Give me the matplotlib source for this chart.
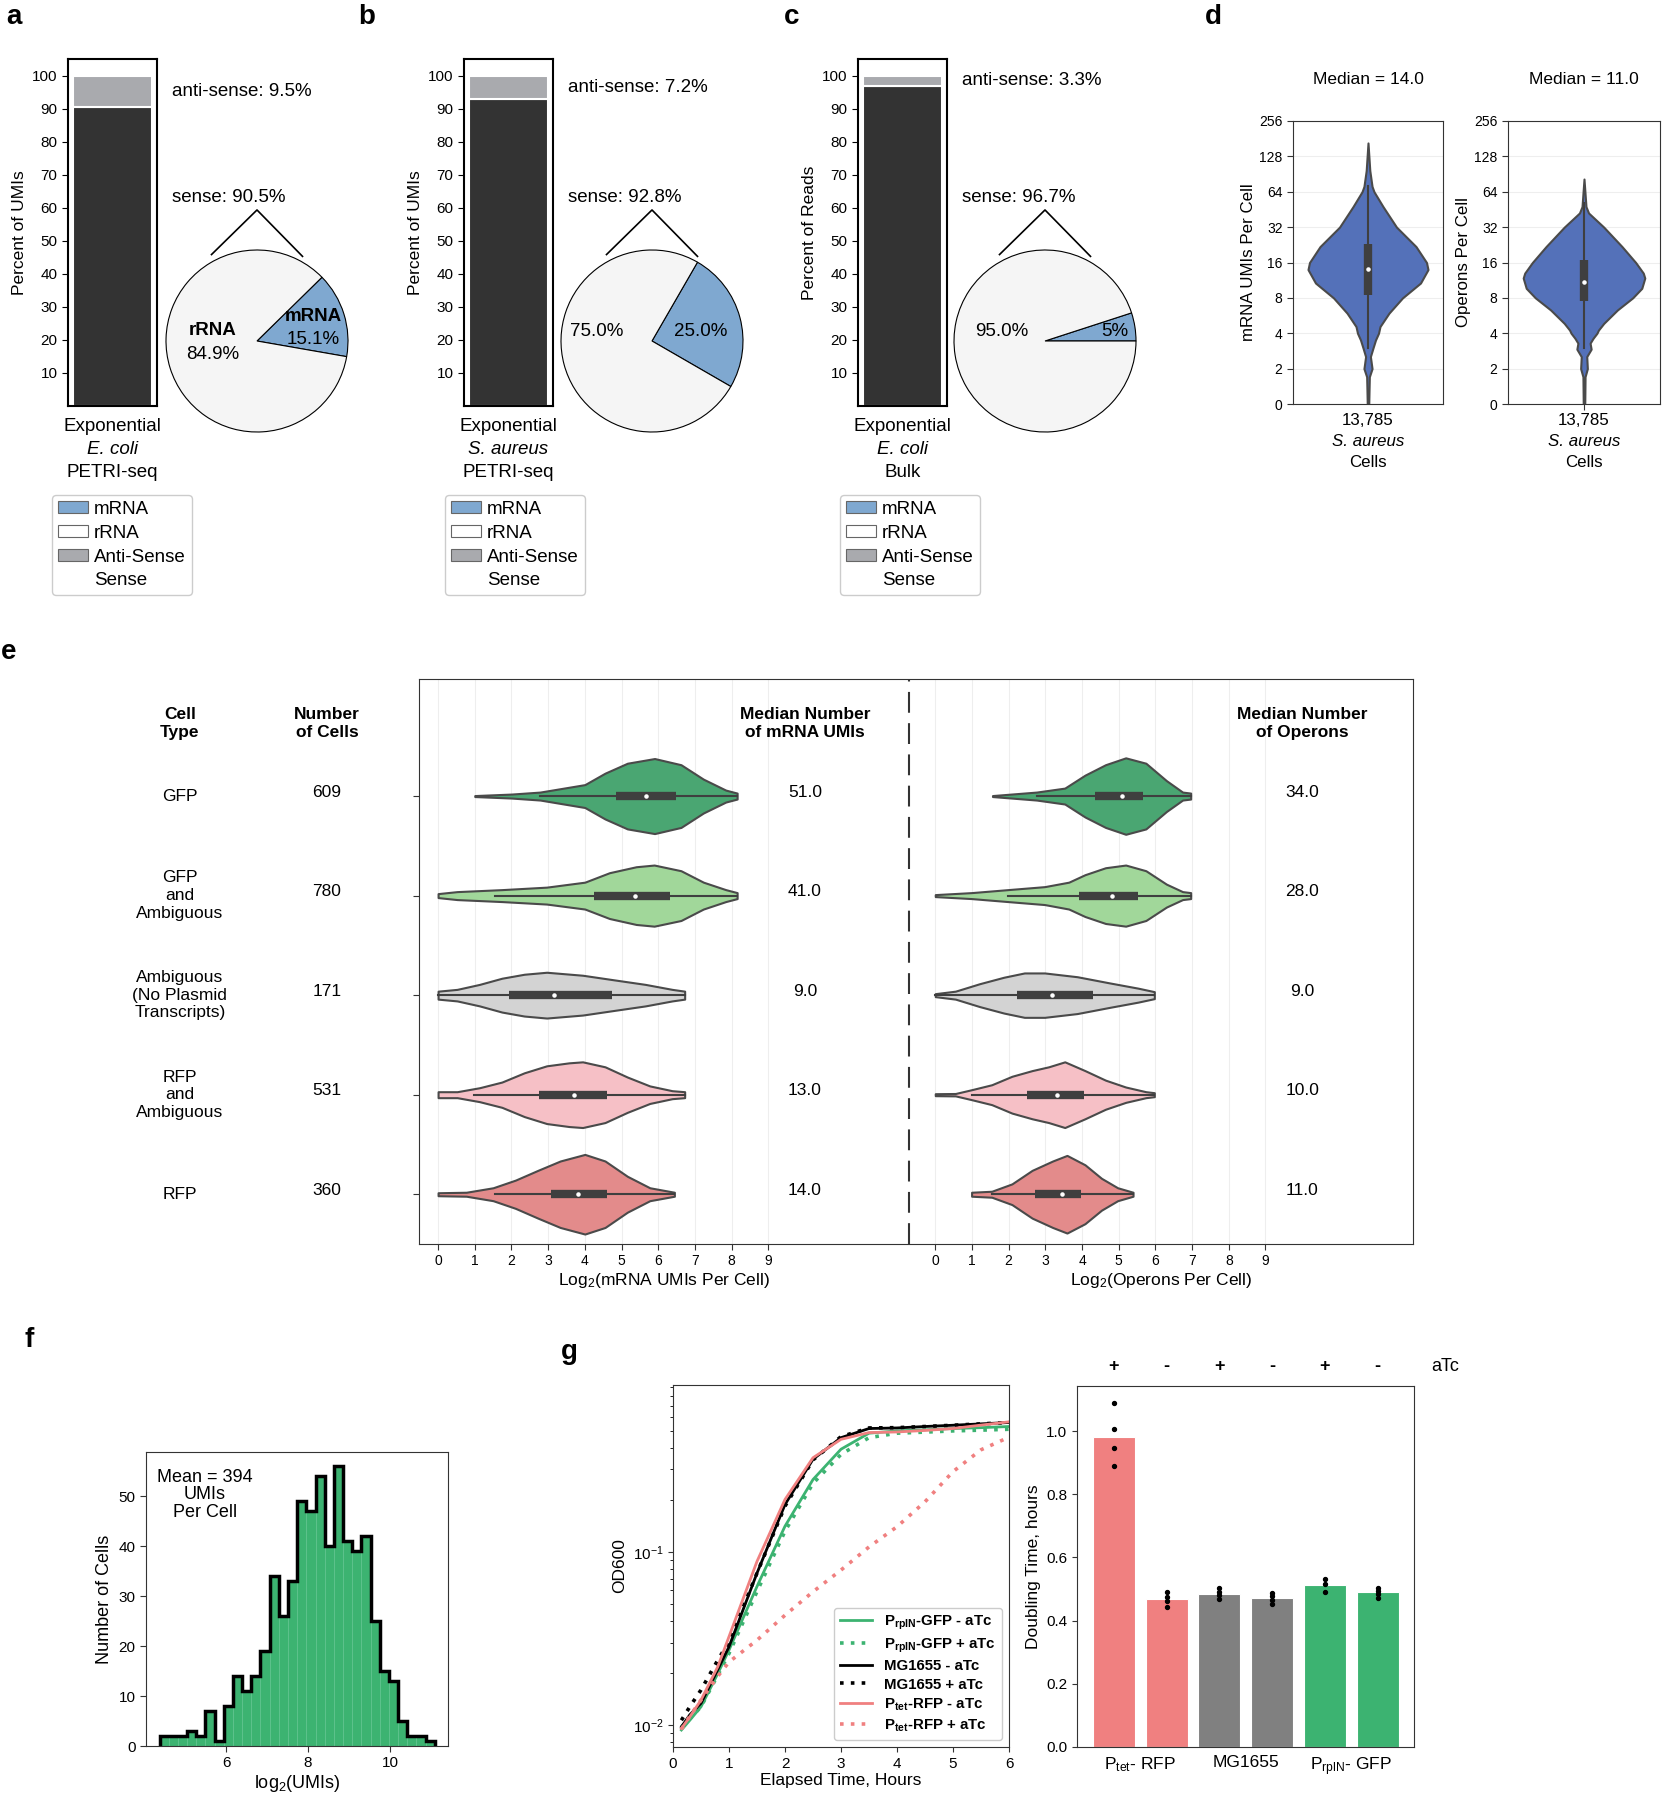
import numpy as np
import matplotlib
matplotlib.use("Agg")
import matplotlib.pyplot as plt
import matplotlib.transforms as mtransforms
from matplotlib.patches import Patch

plt.rcParams['font.family'] = ['Liberation Sans', 'DejaVu Sans']
plt.rcParams['mathtext.fontset'] = 'custom'
plt.rcParams['mathtext.rm'] = 'Liberation Sans'
plt.rcParams['mathtext.it'] = 'Liberation Sans:italic'
plt.rcParams['mathtext.bf'] = 'Liberation Sans:bold'

#       <--- NOTE: DATA --->
#------------------------------------------------------------------------------
# panels a-c : sense / anti-sense bars and mRNA / rRNA pies
sense_pct = [90.5, 92.8, 96.7]
antisense_pct = [9.5, 7.2, 3.3]
mrna_pct = [15.1, 25.0, 5.0]
rrna_pct = [84.9, 75.0, 95.0]
mrna_labels = ["15.1%", "25.0%", "5%"]
rrna_labels = ["84.9%", "75.0%", "95.0%"]
mrna_names = ["mRNA", "", ""]
rrna_names = ["rRNA", "", ""]
species = ["E. coli", "S. aureus", "E. coli"]
methods = ["PETRI-seq", "PETRI-seq", "Bulk"]
bar_ylabels = ["Percent of UMIs", "Percent of UMIs", "Percent of Reads"]

# panel d : S. aureus violins (log2 position, half width)
d_titles = ["Median = 14.0", "Median = 11.0"]
d_ylabels = ["mRNA UMIs Per Cell", "Operons Per Cell"]
d_ticklabels = ["0", "2", "4", "8", "16", "32", "64", "128", "256"]
d_ncells = "13,785"
umi_pos = [0, 0.4, 0.77, 1.0, 1.34, 1.58, 1.81, 2.0, 2.19, 2.57, 3.0, 3.42, 3.8, 4.0,
           4.45, 5.0, 5.58, 6.0, 6.15, 6.6, 7.38]
umi_hw = [0.005, 0.007, 0.009, 0.027, 0.016, 0.033, 0.05, 0.07, 0.08, 0.14, 0.23, 0.35,
          0.40, 0.39, 0.32, 0.19, 0.10, 0.04, 0.027, 0.012, 0.0]
op_pos = [0, 0.77, 1.0, 1.34, 1.55, 1.72, 1.86, 2.0, 2.09, 2.28, 2.66, 3.0, 3.27, 3.56,
          3.7, 4.0, 4.45, 5.0, 5.4, 5.58, 6.36]
op_hw = [0.005, 0.007, 0.022, 0.018, 0.047, 0.04, 0.06, 0.085, 0.095, 0.13, 0.22, 0.32,
         0.38, 0.40, 0.39, 0.34, 0.25, 0.13, 0.03, 0.013, 0.0]
# whisker lo, q1, q3, whisker hi (log2), medians
d_boxes = [(1.58, 3.08, 4.53, 6.15), (1.58, 2.9, 4.08, 5.68)]
d_medians = [14.0, 11.0]

# panel e : cell types
cell_types = ["GFP", "GFP\nand\nAmbiguous", "Ambiguous\n(No Plasmid\nTranscripts)",
              "RFP\nand\nAmbiguous", "RFP"]
n_cells = [609, 780, 171, 531, 360]
med_umi = [51.0, 41.0, 9.0, 13.0, 14.0]
med_op = [34.0, 28.0, 9.0, 10.0, 11.0]
e_colors = ['#4aa672', '#a1d79a', '#d3d3d3', '#f6c0c6', '#e38b8b']

e_umi_x = [
    [1.0, 2.0, 2.78, 4.0, 4.55, 5.16, 5.9, 6.62, 7.23, 7.84, 8.15],
    [0.0, 0.52, 1.74, 2.96, 4.0, 4.67, 5.4, 5.89, 6.62, 7.23, 7.84, 8.15],
    [0.0, 0.52, 1.13, 1.74, 2.35, 2.96, 3.94, 4.79, 5.65, 6.38, 6.72],
    [0.0, 0.52, 1.13, 1.74, 2.35, 2.96, 3.57, 3.94, 4.55, 5.16, 5.77, 6.38, 6.72],
    [0.0, 0.77, 1.5, 2.11, 2.72, 3.33, 4.0, 4.55, 5.16, 5.77, 6.44],
]
e_umi_hw = [
    [0.005, 0.02, 0.04, 0.115, 0.23, 0.33, 0.377, 0.315, 0.17, 0.06, 0.03],
    [0.02, 0.04, 0.06, 0.085, 0.135, 0.23, 0.29, 0.307, 0.25, 0.135, 0.06, 0.03],
    [0.04, 0.058, 0.108, 0.17, 0.21, 0.23, 0.2, 0.154, 0.108, 0.058, 0.04],
    [0.03, 0.03, 0.07, 0.127, 0.22, 0.29, 0.32, 0.33, 0.28, 0.177, 0.088, 0.04, 0.03],
    [0.015, 0.02, 0.065, 0.142, 0.24, 0.334, 0.40, 0.334, 0.18, 0.065, 0.02],
]
e_op_x = [
    [1.56, 2.76, 3.53, 4.08, 4.64, 5.19, 5.74, 6.3, 6.74, 6.96],
    [0.0, 0.99, 1.98, 2.98, 3.64, 4.08, 4.64, 5.19, 5.74, 6.3, 6.74, 6.96],
    [0.0, 0.55, 1.21, 1.87, 2.43, 2.98, 3.87, 4.75, 5.53, 5.97],
    [0.0, 0.55, 0.99, 1.54, 2.09, 2.64, 3.09, 3.53, 4.08, 4.64, 5.19, 5.74, 5.97],
    [0.99, 1.54, 2.09, 2.64, 3.2, 3.59, 4.08, 4.53, 4.97, 5.39],
]
e_op_hw = [
    [0.005, 0.04, 0.08, 0.21, 0.315, 0.384, 0.33, 0.155, 0.04, 0.03],
    [0.01, 0.03, 0.06, 0.09, 0.135, 0.21, 0.28, 0.307, 0.25, 0.115, 0.04, 0.03],
    [0.015, 0.04, 0.115, 0.18, 0.223, 0.223, 0.185, 0.123, 0.07, 0.035],
    [0.01, 0.012, 0.05, 0.1, 0.185, 0.242, 0.28, 0.33, 0.242, 0.146, 0.077, 0.03, 0.02],
    [0.02, 0.03, 0.104, 0.24, 0.334, 0.39, 0.296, 0.16, 0.065, 0.02],
]
# whisker lo, q1, q3, whisker hi
e_umi_box = [(2.78, 4.85, 6.48, 8.15), (1.56, 4.24, 6.32, 8.15), (0.0, 1.93, 4.73, 6.72),
             (0.99, 2.76, 4.61, 6.72), (1.56, 3.09, 4.61, 6.44)]
e_op_box = [(2.76, 4.36, 5.65, 6.96), (1.98, 3.92, 5.52, 6.96), (0.0, 2.24, 4.29, 5.97),
            (0.99, 2.5, 4.06, 5.97), (1.54, 2.72, 3.97, 5.39)]

# panel f : histogram of log2(UMIs)
hist_start = 4.38
hist_width = 0.2236
hist_counts = [2, 2, 2, 3, 2, 7, 1, 8, 14, 11, 14, 19, 34, 26, 33, 49, 47, 54, 40, 56,
               41, 39, 42, 25, 15, 13, 5, 2, 2, 1]

# panel g : growth curves
hours = [0.15, 0.3, 0.5, 0.8, 1.0, 1.5, 2.0, 2.5, 3.0, 3.5, 4.0, 4.5, 5.0, 5.5, 6.0]
od_gfp_minus = [0.0094, 0.0107, 0.0128, 0.0199, 0.0272, 0.0633, 0.141, 0.262, 0.392,
                0.485, 0.500, 0.507, 0.516, 0.522, 0.530]
od_gfp_plus = [0.0098, 0.0109, 0.0128, 0.0195, 0.0260, 0.0592, 0.132, 0.249, 0.366,
               0.457, 0.485, 0.492, 0.500, 0.505, 0.511]
od_mg_minus = [0.0098, 0.0115, 0.0134, 0.0210, 0.0284, 0.0756, 0.188, 0.343, 0.457,
               0.516, 0.520, 0.530, 0.539, 0.549, 0.559]
od_mg_plus = [0.0107, 0.0128, 0.0160, 0.0238, 0.0304, 0.0756, 0.184, 0.340, 0.463,
              0.520, 0.522, 0.530, 0.539, 0.549, 0.559]
od_rfp_minus = [0.0096, 0.0112, 0.0140, 0.0218, 0.0325, 0.0883, 0.201, 0.350, 0.447,
                0.489, 0.493, 0.503, 0.516, 0.540, 0.564]
od_rfp_plus = [0.0095, 0.0113, 0.0140, 0.0192, 0.0232, 0.0310, 0.0432, 0.0590, 0.0787,
               0.107, 0.140, 0.195, 0.291, 0.389, 0.460]
curve_labels = [r"P$_{\mathbf{rplN}}$-GFP - aTc", r"P$_{\mathbf{rplN}}$-GFP + aTc",
                "MG1655 - aTc", "MG1655 + aTc",
                r"P$_{\mathbf{tet}}$-RFP - aTc", r"P$_{\mathbf{tet}}$-RFP + aTc"]

# panel g : doubling times
atc = ["+", "-", "+", "-", "+", "-"]
doubling_mean = [0.982, 0.469, 0.486, 0.472, 0.513, 0.490]
doubling_reps = [[1.088, 1.007, 0.947, 0.889], [0.491, 0.475, 0.462, 0.443],
                 [0.502, 0.491, 0.480, 0.470], [0.488, 0.477, 0.467, 0.452],
                 [0.533, 0.515, 0.491], [0.503, 0.494, 0.484, 0.473]]
strain_labels = [r"P$_{\mathregular{tet}}$- RFP", "MG1655", r"P$_{\mathregular{rplN}}$- GFP"]

#       <--- NOTE: LAYOUT HELPERS --->
#------------------------------------------------------------------------------
W, H = 1664, 1800
fig = plt.figure(figsize=(W / 100, H / 100), dpi=100)


def rect(x0, y0, x1, y1):
    return [x0 / W, 1 - y1 / H, (x1 - x0) / W, (y1 - y0) / H]


def fpos(x, y):
    return (x / W, 1 - y / H)


DARK = '#333333'
AS_GRAY = '#a9aaae'
BLUE = '#7fa8d0'
EDGE = '#4a4a4a'

# panel letters
for let, (lx, ly) in zip("abcdefg", [(14, 17), (367, 17), (792, 17), (1213, 17),
                                      (9, 652), (29, 1340), (569, 1352)]):
    fig.text(*fpos(lx, ly), let, fontsize=20, fontweight='bold', ha='center', va='center')

#       <--- NOTE: PANELS A-C --->
#------------------------------------------------------------------------------
bar_boxes = [(68, 59, 157, 406), (464, 59, 553, 406), (858, 59, 947, 406)]
pie_centers = [(257, 341), (652, 341), (1045, 341)]
pie_start = [-9.9, -30, 0]
pie_txt_left = [(-0.49, 0.12, -0.15), (-0.61, 0.1, 0.1), (-0.47, 0.1, 0.1)]
pie_txt_right = [(0.62, 0.27, 0.02), (0.54, 0.1, 0.1), (0.77, 0.1, 0.1)]
legend_x = [52, 445, 840]
R = 91

for i in range(3):
    ax = fig.add_axes(rect(*bar_boxes[i]))
    ax.bar(0, sense_pct[i], width=0.89, color=DARK, edgecolor='white', linewidth=1.5)
    ax.bar(0, antisense_pct[i], bottom=sense_pct[i], width=0.89, color=AS_GRAY,
           edgecolor='white', linewidth=1.5)
    ax.set_xlim(-0.5, 0.5)
    ax.set_ylim(0, 105)
    ax.set_yticks(range(10, 101, 10))
    ax.set_xticks([])
    ax.tick_params(axis='y', labelsize=11, length=4)
    ax.set_ylabel(bar_ylabels[i], fontsize=12.5)
    for s in ax.spines.values():
        s.set_linewidth(1.5)
    tr = mtransforms.blended_transform_factory(ax.transAxes, ax.transData)
    ax.text(1.17, sense_pct[i] + antisense_pct[i] / 2, "anti-sense: {}%".format(antisense_pct[i]),
            transform=tr, va='center', fontsize=13.5)
    ax.text(1.17, 63, "sense: {}%".format(sense_pct[i]), transform=tr, va='center', fontsize=13.5)
    ax.text(0.5, -0.058, "Exponential", transform=ax.transAxes, ha='center', va='center', fontsize=13.5)
    ax.text(0.5, -0.124, species[i], transform=ax.transAxes, ha='center', va='center',
            fontsize=13.5, style='italic')
    ax.text(0.5, -0.193, methods[i], transform=ax.transAxes, ha='center', va='center', fontsize=13.5)

    cx, cy = pie_centers[i]
    pax = fig.add_axes(rect(cx - R, cy - R, cx + R, cy + R))
    wedges, _ = pax.pie([mrna_pct[i], rrna_pct[i]], colors=[BLUE, '#f5f5f5'],
                        startangle=pie_start[i],
                        wedgeprops=dict(edgecolor='black', linewidth=0.8))
    for w in wedges:
        w.set_clip_on(False)
    pax.set_xlim(-1, 1)
    pax.set_ylim(-1, 1)
    pax.set_aspect('equal')
    pax.axis('off')
    pax.plot([-0.5, 0, 0.5], [0.95, 1.44, 0.93], color='black', lw=1.2, clip_on=False)
    lx, ly1, ly2 = pie_txt_left[i]
    rx, ry1, ry2 = pie_txt_right[i]
    if rrna_names[i]:
        pax.text(lx, ly1, rrna_names[i], ha='center', va='center', fontsize=13.5, fontweight='bold')
        pax.text(rx, ry1, mrna_names[i], ha='center', va='center', fontsize=13.5, fontweight='bold')
    pax.text(lx, ly2, rrna_labels[i], ha='center', va='center', fontsize=13.5)
    pax.text(rx, ry2, mrna_labels[i], ha='center', va='center', fontsize=13.5)

    handles = [Patch(fc=BLUE, ec='#666666', lw=0.8), Patch(fc='white', ec='#666666', lw=0.8),
               Patch(fc=AS_GRAY, ec='#666666', lw=0.8), Patch(fc='none', ec='none')]
    fig.legend(handles, ['mRNA', 'rRNA', 'Anti-Sense', 'Sense'], loc='upper left',
               bbox_to_anchor=fpos(legend_x[i], 495), borderaxespad=0, fontsize=13.5,
               handlelength=1.6, handleheight=0.6, labelspacing=0.37, handletextpad=0.35,
               borderpad=0.3, edgecolor='#cccccc', framealpha=1)

#       <--- NOTE: PANEL D --->
#------------------------------------------------------------------------------
VBLUE = '#5471b9'
d_axes = [(1293, 121, 1443, 404), (1508, 121, 1660, 404)]
d_profiles = [(umi_pos, umi_hw), (op_pos, op_hw)]
for j in range(2):
    ax = fig.add_axes(rect(*d_axes[j]))
    pos, hw = np.array(d_profiles[j][0]), np.array(d_profiles[j][1])
    ax.fill_betweenx(pos, -hw, hw, facecolor=VBLUE, edgecolor=EDGE, lw=1.5, zorder=2)
    wlo, q1, q3, whi = d_boxes[j]
    ax.plot([0, 0], [wlo, whi], color='#3f3f3f', lw=1.5, zorder=3)
    ax.plot([0, 0], [q1, q3], color='#3f3f3f', lw=6, solid_capstyle='butt', zorder=3)
    ax.scatter([0], [np.log2(d_medians[j])], s=5, color='white', zorder=4)
    ax.set_xlim(-0.5, 0.5)
    ax.set_ylim(0, 8)
    ax.set_yticks(range(9))
    ax.set_yticklabels(d_ticklabels)
    ax.set_xticks([0])
    ax.set_xticklabels([''])
    ax.tick_params(axis='y', labelsize=10, length=4, color='#333333')
    ax.tick_params(axis='x', length=4 if j == 1 else 0, color='#333333')
    ax.yaxis.grid(True, color='#eeeeee', lw=0.8)
    ax.set_axisbelow(True)
    for s in ax.spines.values():
        s.set_color('#333333')
    ax.set_title(d_titles[j], fontsize=12.5, pad=27)
    ax.set_ylabel(d_ylabels[j], fontsize=12.2, labelpad=2)
    ax.text(0.5, -0.057, d_ncells, transform=ax.transAxes, ha='center', va='center', fontsize=12.2)
    ax.text(0.5, -0.134, "S. aureus", transform=ax.transAxes, ha='center', va='center',
            fontsize=12.2, style='italic')
    ax.text(0.5, -0.208, "Cells", transform=ax.transAxes, ha='center', va='center', fontsize=12.2)

#       <--- NOTE: PANEL E --->
#------------------------------------------------------------------------------
OFF = 13.55
ax = fig.add_axes(rect(419, 679, 1413, 1244))
blocks = [(0, e_umi_x, e_umi_hw, e_umi_box, med_umi), (OFF, e_op_x, e_op_hw, e_op_box, med_op)]
for off, xs, hws, boxes, meds in blocks:
    for r in range(5):
        x = np.array(xs[r]) + off
        hw = np.array(hws[r])
        ax.fill_between(x, r - hw, r + hw, facecolor=e_colors[r], edgecolor=EDGE, lw=1.5, zorder=2)
        wlo, q1, q3, whi = boxes[r]
        ax.plot([wlo + off, whi + off], [r, r], color='#3f3f3f', lw=1.5, zorder=3)
        ax.plot([q1 + off, q3 + off], [r, r], color='#3f3f3f', lw=6, solid_capstyle='butt', zorder=3)
        ax.scatter([np.log2(meds[r]) + off], [r], s=5, color='white', zorder=4)
        ax.text(10.0 + off, r - 0.04, "{:.1f}".format(meds[r]), ha='center', va='center', fontsize=12.5)

for r in range(5):
    ax.text(-7.04, r, cell_types[r], ha='center', va='center', fontsize=12.5,
            linespacing=1.22, clip_on=False)
    ax.text(-3.03, r - 0.04, str(n_cells[r]), ha='center', va='center', fontsize=12.5, clip_on=False)

hdr = dict(ha='center', va='center', fontsize=12.5, fontweight='bold', linespacing=1.22, clip_on=False)
ax.text(-7.04, -0.73, "Cell\nType", **hdr)
ax.text(-3.03, -0.73, "Number\nof Cells", **hdr)
ax.text(10.0, -0.73, "Median Number\nof mRNA UMIs", **hdr)
ax.text(10.0 + OFF, -0.73, "Median Number\nof Operons", **hdr)

ax.axvline(12.83, color='#333333', lw=1.5, ls=(0, (10, 5)), zorder=3)
ticks = list(range(10)) + [OFF + k for k in range(10)]
ax.set_xticks(ticks)
ax.set_xticklabels([str(k) for k in range(10)] * 2)
ax.set_yticks(range(5))
ax.set_yticklabels([''] * 5)
ax.tick_params(labelsize=10, length=4, color='#333333')
ax.xaxis.grid(True, color='#eeeeee', lw=0.8)
ax.set_axisbelow(True)
ax.set_xlim(-0.52, 26.57)
ax.set_ylim(4.5, -1.176)
for s in ax.spines.values():
    s.set_color('#333333')
tr = mtransforms.blended_transform_factory(ax.transData, ax.transAxes)
ax.text(6.15, -0.065, "Log$_2$(mRNA UMIs Per Cell)", transform=tr, ha='center', va='center', fontsize=12.5)
ax.text(19.7, -0.065, "Log$_2$(Operons Per Cell)", transform=tr, ha='center', va='center', fontsize=12.5)

#       <--- NOTE: PANEL F --->
#------------------------------------------------------------------------------
ax = fig.add_axes(rect(146, 1452, 448, 1746))
edges = hist_start + hist_width * np.arange(len(hist_counts) + 1)
ax.bar(edges[:-1], hist_counts, width=hist_width, align='edge', color='#3cb371',
       edgecolor='#5fc48e', lw=0.4)
ax.stairs(hist_counts, edges, color='black', lw=2.5, baseline=0)
ax.set_xlim(4.05, 11.41)
ax.set_ylim(0, 58.8)
ax.set_xticks([6, 8, 10])
ax.set_yticks(range(0, 51, 10))
ax.tick_params(labelsize=11, length=4, color='#333333')
for s in ax.spines.values():
    s.set_color('#333333')
ax.set_ylabel("Number of Cells", fontsize=13)
ax.set_xlabel("log$_2$(UMIs)", fontsize=13, labelpad=2)
ax.text(0.195, 0.854, "Mean = 394\nUMIs\nPer Cell", transform=ax.transAxes, ha='center',
        va='center', fontsize=13, linespacing=1.05)

#       <--- NOTE: PANEL G --->
#------------------------------------------------------------------------------
ax = fig.add_axes(rect(673, 1385, 1009, 1747))
GREEN = '#3cb371'
SALMON = '#f08080'
curves = [od_gfp_minus, od_gfp_plus, od_mg_minus, od_mg_plus, od_rfp_minus, od_rfp_plus]
colors = [GREEN, GREEN, 'black', 'black', SALMON, SALMON]
for k in range(6):
    ls = '-' if k % 2 == 0 else (0, (1, 2))
    lw = 2.0 if k % 2 == 0 else 2.6
    ax.plot(hours, curves[k], color=colors[k], ls=ls, lw=lw, label=curve_labels[k])
ax.set_yscale('log')
ax.set_xlim(0, 6)
ax.set_ylim(0.0075, 0.92)
ax.set_xticks(range(7))
ax.tick_params(labelsize=11, color='#333333')
for s in ax.spines.values():
    s.set_color('#333333')
ax.set_ylabel("OD600", fontsize=12.5)
ax.set_xlabel("Elapsed Time, Hours", fontsize=12.5, labelpad=2)
ax.legend(loc='lower right', prop={'weight': 'bold', 'size': 10.8}, handlelength=2.1,
          labelspacing=0.3, edgecolor='#cccccc', framealpha=1)

ax = fig.add_axes(rect(1077, 1386, 1414, 1747))
bar_colors = [SALMON, SALMON, '#808080', '#808080', GREEN, GREEN]
xb = np.arange(6)
ax.bar(xb, doubling_mean, width=0.8, color=bar_colors, edgecolor='white', lw=0.8)
for k in range(6):
    ax.scatter([k] * len(doubling_reps[k]), doubling_reps[k], s=8, color='black', zorder=3)
ax.set_xlim(-0.7, 5.69)
ax.set_ylim(0, 1.143)
ax.set_yticks(np.arange(0, 1.01, 0.2))
ax.set_xticks([0.5, 2.5, 4.5])
ax.set_xticklabels(strain_labels, fontsize=12.5)
ax.tick_params(axis='y', labelsize=11, color='#333333')
ax.tick_params(axis='x', length=0, pad=6)
for s in ax.spines.values():
    s.set_color('#333333')
ax.set_ylabel("Doubling Time, hours", fontsize=12.5)
tr = mtransforms.blended_transform_factory(ax.transData, ax.transAxes)
for k in range(6):
    ax.text(k, 1.053, atc[k], transform=tr, ha='center', va='center', fontsize=13, fontweight='bold')
ax.text(6.28, 1.053, "aTc", transform=tr, ha='center', va='center', fontsize=13, clip_on=False)

fig.savefig("out.png", dpi=100)
